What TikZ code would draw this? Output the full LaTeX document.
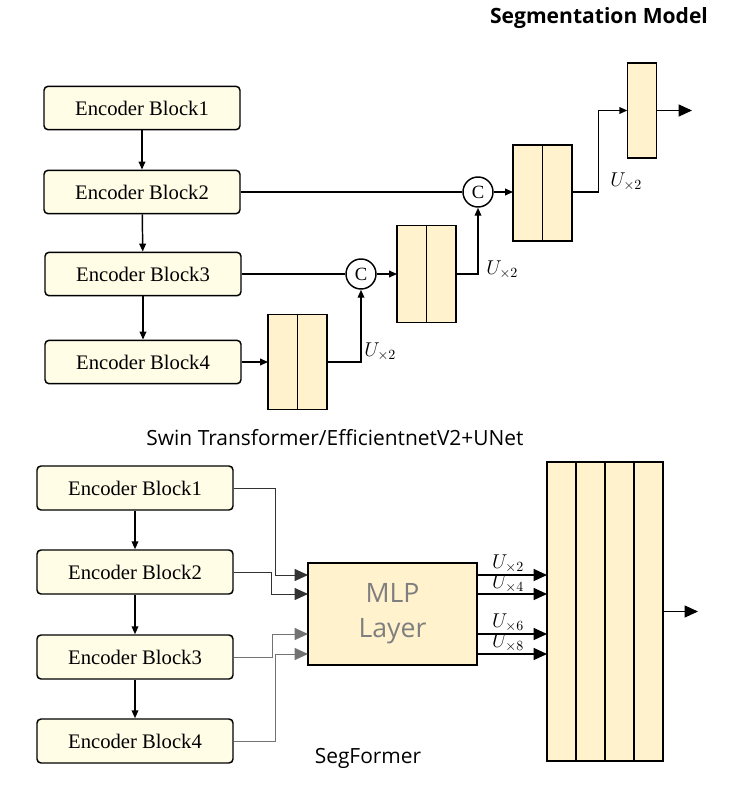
\documentclass[tikz,border=0pt]{standalone}
\usepackage{fix-cm}
\usepackage{fontspec}
\setmainfont{Liberation Serif}
\newfontfamily\uisans{Open Sans}
\usepackage{tikz}
\usetikzlibrary{arrows.meta,positioning,calc}
\definecolor{encfill}{HTML}{FFFDE6}
\definecolor{cellfill}{HTML}{FFF2CC}
\definecolor{mlptext}{HTML}{7F7F7F}

\tikzset{
  enc/.style={draw, line width=1.1pt, rounded corners=3pt, fill=encfill,
    minimum width=147pt, minimum height=32.5pt, inner sep=0pt,
    font=\fontsize{15.5}{18}\selectfont},
  cell/.style={draw, line width=1.2pt, fill=cellfill, minimum width=22pt,
    inner sep=0pt, outer sep=0pt},
  catnode/.style={circle, draw, line width=1.1pt, fill=white, minimum size=22.5pt,
    inner sep=0pt, font=\fontsize{14}{16}\selectfont},
  arr/.style={-{Triangle[length=6pt,width=5pt]}, line width=1.1pt},
  bigarr/.style={-{Triangle[length=10pt,width=9pt]}},
  ulabel/.style={inner sep=0pt, font=\fontsize{15}{17}\selectfont},
  caption/.style={font=\uisans\fontsize{15.7}{18}\selectfont}
}

\begin{document}
\begin{tikzpicture}[x=0.75pt, y=-0.75pt]
    \useasboundingbox (0,0) rectangle (733,788);
    % Title
    \node[font=\uisans\bfseries\fontsize{15.8}{18}\selectfont] (title) at (599,18) {Segmentation Model};

    % UNet encoder
    \node[enc] (eb1) at (142,108) {Encoder Block1};
    \node[enc] (eb2) at (142,192) {Encoder Block2};
    \node[enc] (eb3) at (143,274) {Encoder Block3};
    \node[enc] (eb4) at (143,362) {Encoder Block4};
    \draw[arr] (eb1) -- (eb2);
    \draw[arr] (eb2) -- (eb3);
    \draw[arr] (eb3) -- (eb4);

    % UNet decoder
    \node[cell, minimum height=71.25pt] (a1) at (282.75,362) {};
    \node[cell, minimum height=71.25pt, right=0pt of a1] (a2) {};
    \node[catnode] (c1) at (361,274) {C};
    \node[cell, minimum height=72.5pt] (b1) at (411.75,274) {};
    \node[cell, minimum height=72.5pt, right=0pt of b1] (b2) {};
    \node[catnode] (c2) at (478,192) {C};
    \node[cell, minimum height=72pt] (cc1) at (527.75,193) {};
    \node[cell, minimum height=72pt, right=0pt of cc1] (cc2) {};
    \node[cell, minimum height=71.25pt] (d) at (642,110.5) {};
    \coordinate (out1) at (692,110.5);

    \draw[arr] (eb4) -- (a1);
    \draw[arr] (a2.east) -| (c1.south);
    \draw[line width=1.1pt] (eb3) -- (c1);
    \draw[arr] (c1) -- (b1);
    \draw[arr] (b2.east) -| (c2.south);
    \draw[line width=1.1pt] (eb2) -- (c2);
    \draw[arr] (c2) -- (cc1.west |- c2);
    \draw[arr] (cc2.east |- c2) -- ++(27,0) |- (d.west);
    \draw[bigarr, line width=0.8pt] (d) -- (out1);

    \node[ulabel, anchor=west] (u1) at (364,352) {$U_{\times 2}$};
    \node[ulabel, anchor=west] (u2) at (486,270) {$U_{\times 2}$};
    \node[ulabel, anchor=west] (u3) at (610,182) {$U_{\times 2}$};

    \node[caption] (cap1) at (335,438) {Swin Transformer/EfficientnetV2+UNet};

    % SegFormer encoder
    \node[enc, minimum height=33pt] (sb1) at (135,488) {Encoder Block1};
    \node[enc, minimum height=33pt] (sb2) at (135,572) {Encoder Block2};
    \node[enc, minimum height=33pt] (sb3) at (135,657) {Encoder Block3};
    \node[enc, minimum height=33pt] (sb4) at (135,741) {Encoder Block4};
    \draw[arr] (sb1) -- (sb2);
    \draw[arr] (sb2) -- (sb3);
    \draw[arr] (sb3) -- (sb4);

    % MLP layer
    \node[draw, line width=1.1pt, fill=cellfill, minimum width=126.75pt, minimum height=76.5pt,
      align=center, text=mlptext, font=\uisans\fontsize{20}{26}\selectfont] (mlp) at (392.5,614) {MLP\\Layer};
    \coordinate (in1) at (308,575);
    \coordinate (in2) at (308,594);
    \coordinate (in3) at (308,634);
    \coordinate (in4) at (308,654);
    \draw[bigarr, line width=0.7pt, black!80] (sb1.east) -- ++(42,0) |- (in1);
    \draw[bigarr, line width=0.7pt, black!80] (sb2.east) -- ++(38,0) |- (in2);
    \draw[bigarr, line width=0.7pt, black!55] (sb3.east) -- ++(39,0) |- (in3);
    \draw[bigarr, line width=0.7pt, black!55] (sb4.east) -- ++(42,0) |- (in4);

    % fused features
    \node[cell, minimum width=21.75pt, minimum height=224.25pt] (g1) at (561.5,611.5) {};
    \node[cell, minimum width=21.75pt, minimum height=224.25pt, right=0pt of g1] (g2) {};
    \node[cell, minimum width=21.75pt, minimum height=224.25pt, right=0pt of g2] (g3) {};
    \node[cell, minimum width=21.75pt, minimum height=224.25pt, right=0pt of g3] (g4) {};
    \coordinate (out2) at (698,611.5);

    \draw[bigarr, line width=0.9pt] (mlp.east |- in1) -- (g1.west |- in1);
    \draw[bigarr, line width=0.9pt] (mlp.east |- in2) -- (g1.west |- in2);
    \draw[bigarr, line width=0.9pt] (mlp.east |- in3) -- (g1.west |- in3);
    \draw[bigarr, line width=0.9pt] (mlp.east |- in4) -- (g1.west |- in4);
    \draw[bigarr, line width=0.8pt] (g4) -- (out2);

    \node[ulabel] (s1) at (508,564) {$U_{\times 2}$};
    \node[ulabel] (s2) at (508,584) {$U_{\times 4}$};
    \node[ulabel] (s3) at (508,623) {$U_{\times 6}$};
    \node[ulabel] (s4) at (508,643) {$U_{\times 8}$};

    \node[caption] (cap2) at (368,758) {SegFormer};
\end{tikzpicture}
\end{document}
